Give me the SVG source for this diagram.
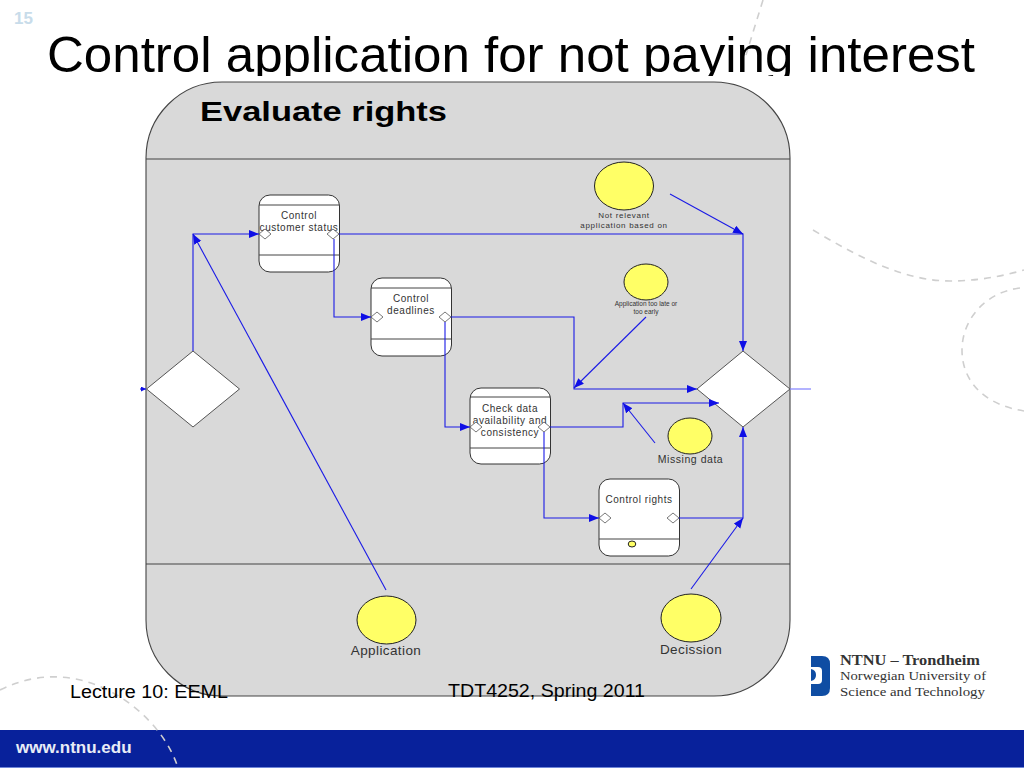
<svg xmlns="http://www.w3.org/2000/svg" width="1024" height="768" viewBox="0 0 1024 768">
  <style>
    text { font-family: "Liberation Sans", Arial, sans-serif; fill: #000; }
    .serif { font-family: "Liberation Serif", "Times New Roman", serif; fill: #333; }
    .dash { fill: none; stroke: #cfcfcf; stroke-width: 1.6; stroke-dasharray: 7 6; }
    .panel { fill: #d9d9d9; stroke: #444; stroke-width: 1.1; }
    .lane { stroke: #444; stroke-width: 1.1; fill: none; }
    .task { fill: #fff; stroke: #333; stroke-width: 1; }
    .div { stroke: #444; stroke-width: 1; fill: none; }
    .port { fill: #fff; stroke: #555; stroke-width: 0.8; }
    .gate { fill: #fff; stroke: #555; stroke-width: 1; }
    .event { fill: #ffff66; stroke: #222; stroke-width: 1; }
    .lab { font-size: 10px; fill: #333; text-anchor: middle; letter-spacing: 0.55px; }
    .con { fill: none; stroke: #1a1ae6; stroke-width: 1.1; marker-end: url(#arrow); }
    .plain { fill: none; stroke: #8080ff; stroke-width: 1.2; }
  </style>
  <defs>
    <marker id="arrow" markerUnits="userSpaceOnUse" markerWidth="11" markerHeight="9" refX="10" refY="4" orient="auto">
      <path d="M0 0 L10 4 L0 8 Z" fill="#0f0fe6"/>
    </marker>
    <marker id="arrow-small" markerUnits="userSpaceOnUse" markerWidth="6" markerHeight="6" refX="5" refY="2.500" orient="auto">
      <path d="M0 0 L5 2.500 L0 5 Z" fill="#0f0fe6"/>
    </marker>
    <clipPath id="titleClip"><rect x="0" y="0" width="1024" height="76"/></clipPath>
  </defs>

  <rect width="1024" height="768" fill="#fff"/>

  <g id="background">
    <path class="dash" d="M813 230 C 860 258 905 281 950 281 C 975 281 1000 277 1024 270"/>
    <path class="dash" d="M1020 288 C 985 292 962 320 962 350 C 962 382 985 405 1024 411"/>
    <path class="dash" d="M763 0 L746 55"/>
    <rect x="0" y="730" width="1024" height="37" fill="#08219b"/>
    <rect x="0" y="767" width="1024" height="1" fill="#6f86d8"/>
    <path class="dash" d="M0 690 C 20 680 40 676 60 677 C 115 680 165 725 178 768"/>
    <text x="16" y="753" font-size="17" font-weight="bold" style="fill:#e8ecf6">www.ntnu.edu</text>
    <text x="14" y="24" font-size="17" font-weight="bold" style="fill:#c8dcea">15</text>
  </g>

  <text id="title" x="47" y="72" font-size="50" textLength="928" lengthAdjust="spacingAndGlyphs" clip-path="url(#titleClip)">Control application for not paying interest</text>

  <g id="pool">
    <rect class="panel" x="146" y="82" width="644" height="614" rx="76" ry="76"/>
    <path class="lane" d="M146 159 H790 M146 564 H790"/>
    <text x="200" y="121" font-size="28" font-weight="bold" textLength="247" lengthAdjust="spacingAndGlyphs">Evaluate rights</text>
  </g>

  <g id="gate-start"><path class="gate" d="M193 351 L239.500 389 L193 427 L146.500 389 Z"/></g>
  <g id="gate-end"><path class="gate" d="M743 351 L790 389 L743 427 L697 389 Z"/></g>

  <g id="task-control-customer-status">
    <rect class="task" x="259" y="195" width="80.500" height="77" rx="11"/>
    <path class="div" d="M259 205 H339.500 M259 255 H339.500"/>
    <text class="lab" x="299" y="219">Control</text>
    <text class="lab" x="299" y="231">customer status</text>
    <path class="port" d="M259 234 L265 229 L271 234 L265 239 Z"/>
    <path class="port" d="M327 234 L333 229 L339 234 L333 239 Z"/>
  </g>
  <g id="task-control-deadlines">
    <rect class="task" x="371" y="278" width="80.500" height="78" rx="11"/>
    <path class="div" d="M371 288 H451.500 M371 339 H451.500"/>
    <text class="lab" x="411" y="302">Control</text>
    <text class="lab" x="411" y="314">deadlines</text>
    <path class="port" d="M371 317 L377 312 L383 317 L377 322 Z"/>
    <path class="port" d="M439 317 L445 312 L451 317 L445 322 Z"/>
  </g>
  <g id="task-check-data">
    <rect class="task" x="470" y="388" width="80.500" height="76" rx="11"/>
    <path class="div" d="M470 397 H550.500 M470 448 H550.500"/>
    <text class="lab" x="510" y="412">Check data</text>
    <text class="lab" x="510" y="424">availability and</text>
    <text class="lab" x="510" y="436">consistency</text>
    <path class="port" d="M470 427 L476 422 L482 427 L476 432 Z"/>
    <path class="port" d="M538 427 L544 422 L550 427 L544 432 Z"/>
  </g>
  <g id="task-control-rights">
    <rect class="task" x="599" y="479" width="80.500" height="77" rx="11"/>
    <path class="div" d="M599 539 H679.500"/>
    <text class="lab" x="639" y="503">Control rights</text>
    <path class="port" d="M599 518 L605 513 L611 518 L605 523 Z"/>
    <path class="port" d="M667 518 L673 513 L679 518 L673 523 Z"/>
    <ellipse class="event" cx="632" cy="544" rx="3.800" ry="3"/>
  </g>

  <g id="event-not-relevant">
    <ellipse class="event" cx="624" cy="186" rx="29.500" ry="24"/>
    <text class="lab" x="624" y="218" style="font-size:8px;letter-spacing:0.7px">Not relevant</text>
    <text class="lab" x="624" y="228" style="font-size:8px;letter-spacing:0.7px">application based on</text>
  </g>
  <g id="event-too-late">
    <ellipse class="event" cx="646" cy="282" rx="22" ry="18"/>
    <text class="lab" x="646" y="306" style="font-size:6.500px;letter-spacing:0">Application too late or</text>
    <text class="lab" x="646" y="314" style="font-size:6.500px;letter-spacing:0">too early</text>
  </g>
  <g id="event-missing-data">
    <ellipse class="event" cx="690" cy="436" rx="22" ry="18"/>
    <text class="lab" x="690.500" y="463" style="font-size:10.500px">Missing data</text>
  </g>
  <g id="event-application">
    <ellipse class="event" cx="386.500" cy="620" rx="29.500" ry="24"/>
    <text class="lab" x="386" y="655" style="font-size:13.500px;letter-spacing:0.4px">Application</text>
  </g>
  <g id="event-decission">
    <ellipse class="event" cx="691" cy="618" rx="30" ry="24"/>
    <text class="lab" x="691" y="654" style="font-size:13.500px;letter-spacing:0.4px">Decission</text>
  </g>

  <g id="connectors">
    <path class="con" style="marker-end:url(#arrow-small)" d="M140 389 H146"/>
    <path class="con" d="M193 351 V234 H259"/>
    <path class="con" d="M386 590 L193 234"/>
    <path class="con" d="M339 234 H743 V351"/>
    <path class="con" d="M670 194 L743 234"/>
    <path class="con" d="M334 239 V317 H371"/>
    <path class="con" d="M451 317 H574 V389 H697"/>
    <path class="con" d="M646 317 L574 388"/>
    <path class="con" d="M445 322 V427 H470"/>
    <path class="con" d="M550 427 H623 V403 H719"/>
    <path class="con" d="M655 443 L623 403"/>
    <path class="con" d="M544 432 V518 H599"/>
    <path class="con" d="M679 518 H743 V427"/>
    <path class="con" d="M691 589 L743 518"/>
    <path class="plain" d="M790 389 H811"/>
  </g>

  <g id="footer">
    <text x="70" y="698" font-size="18" textLength="158" lengthAdjust="spacingAndGlyphs">Lecture 10: EEML</text>
    <text x="448" y="697" font-size="18" textLength="197" lengthAdjust="spacingAndGlyphs">TDT4252, Spring 2011</text>
  </g>

  <g id="logo">
    <path fill="#0f4da3" d="M811 656 H822 Q830 656 830 664 V688 Q830 696 822 696 H811 Z"/>
    <path fill="#fff" d="M811 667 H818 Q822 667 822 671 V680 Q822 684 818 684 H811 Z"/>
    <path fill="#0f4da3" d="M811 669 Q816 670 816 675 Q816 680 811 681 Z"/>
    <text class="serif" x="840" y="665" font-size="14.500" font-weight="bold" textLength="140" lengthAdjust="spacingAndGlyphs">NTNU – Trondheim</text>
    <text class="serif" x="840" y="680" font-size="13" textLength="146" lengthAdjust="spacingAndGlyphs">Norwegian University of</text>
    <text class="serif" x="840" y="696" font-size="13" textLength="145" lengthAdjust="spacingAndGlyphs">Science and Technology</text>
  </g>
</svg>
